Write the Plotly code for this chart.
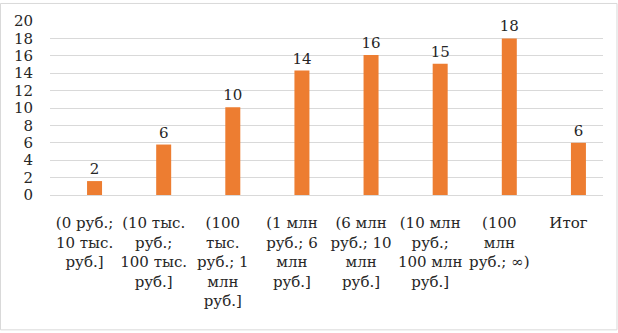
import plotly.graph_objects as go

# Revenue bands and their values
categories = [
    "(0 руб.; 10 тыс. руб.]",
    "(10 тыс. руб.; 100 тыс. руб.]",
    "(100 тыс. руб.; 1 млн руб.]",
    "(1 млн руб.; 6 млн руб.]",
    "(6 млн руб.; 10 млн руб.]",
    "(10 млн руб.; 100 млн руб.]",
    "(100 млн руб.; ∞)",
    "Итог",
]
values = [1.6, 5.8, 10.1, 14.3, 16.1, 15.1, 18.0, 6.0]

# Wrapped tick labels as shown under each bar
tick_text = [
    "(0 руб.;<br>10 тыс.<br>руб.]",
    "(10 тыс.<br>руб.;<br>100 тыс.<br>руб.]",
    "(100<br>тыс.<br>руб.; 1<br>млн<br>руб.]",
    "(1 млн<br>руб.; 6<br>млн<br>руб.]",
    "(6 млн<br>руб.; 10<br>млн<br>руб.]",
    "(10 млн<br>руб.;<br>100 млн<br>руб.]",
    "(100<br>млн<br>руб.; ∞)",
    "Итог",
]
y_ticks = list(range(0, 21, 2))

FONT = "DejaVu Serif"
TEXT = "#262626"

fig = go.Figure(
    go.Bar(
        x=list(range(len(categories))),
        y=values,
        width=0.217,
        offset=0.036,
        marker=dict(color="#ED7D31", line=dict(width=0)),
        text=values,
        texttemplate="%{y:.0f}",
        textposition="outside",
        constraintext="none",
        cliponaxis=False,
        textfont=dict(family=FONT, size=15, color=TEXT),
        hovertext=categories,
    )
)

fig.update_layout(
    width=618,
    height=333,
    margin=dict(l=50, r=15, t=18, b=138),
    paper_bgcolor="white",
    plot_bgcolor="white",
    showlegend=False,
    font=dict(family=FONT, size=15, color=TEXT),
    xaxis=dict(
        range=[-0.5, len(categories) - 0.5],
        tickmode="array",
        tickvals=list(range(len(categories))),
        ticktext=tick_text,
        showgrid=False,
        showline=False,
        zeroline=False,
        ticks="",
        tickangle=0,
        ticklabelstandoff=17,
        tickfont=dict(family=FONT, size=15, color=TEXT),
    ),
    yaxis=dict(
        range=[0, 20],
        tickmode="array",
        tickvals=y_ticks,
        showgrid=True,
        gridcolor="#D9D9D9",
        gridwidth=1,
        zeroline=True,
        zerolinecolor="#D9D9D9",
        zerolinewidth=1,
        showline=False,
        ticks="",
        ticklabelstandoff=16,
        tickfont=dict(family=FONT, size=15, color=TEXT),
    ),
    shapes=[
        dict(
            type="rect",
            xref="paper",
            yref="paper",
            x0=-0.0895,
            x1=1.0253,
            y0=-0.775,
            y1=1.1007,
            line=dict(color="#D9D9D9", width=1),
            fillcolor="rgba(0,0,0,0)",
            layer="below",
        )
    ],
)

fig.write_html("out.html")
